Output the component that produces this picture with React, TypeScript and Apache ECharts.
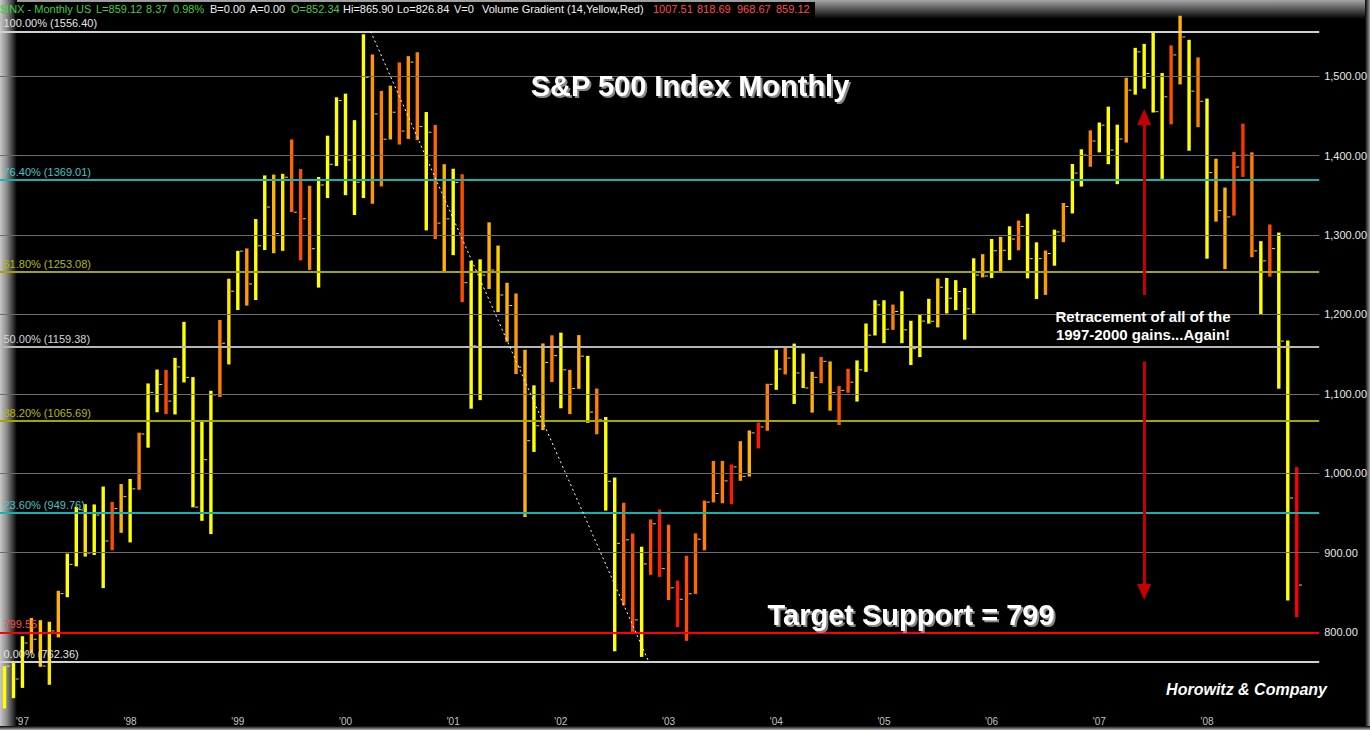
import React, { useEffect, useRef } from 'react';
import * as echarts from 'echarts';

const FONT = '"Liberation Sans", Arial, Helvetica, sans-serif';

// ---- categories: monthly slots Nov 1996 .. Jan 2009 (last two empty) ----
const firstYear = 1996;
const firstMonth = 11;
const slotCount = 147;
const months: string[] = Array.from({ length: slotCount }, (_, k) => {
  const m = firstMonth - 1 + k;
  return `${firstYear + Math.floor(m / 12)}-${String((m % 12) + 1).padStart(2, '0')}`;
});

// ---- monthly OHLC (high / low / close), Nov 1996 .. Nov 2008 ----
const highs = [
  757.0, 761.8,
  794.7, 817.7, 814.9, 812.9, 851.9, 898.7, 957.7, 961.0, 960.6, 983.1, 963.8, 986.3,
  992.7, 1051.0, 1113.0, 1130.5, 1130.0, 1145.2, 1190.6, 1121.0, 1066.1, 1103.8, 1193.0, 1244.9,
  1280.0, 1283.0, 1320.0, 1375.0, 1376.0, 1377.0, 1420.3, 1383.0, 1362.0, 1373.0, 1425.0, 1473.4,
  1478.0, 1444.6, 1552.9, 1527.2, 1481.5, 1488.0, 1517.3, 1525.2, 1530.1, 1454.8, 1438.5, 1389.1,
  1383.4, 1376.4, 1267.4, 1269.3, 1315.9, 1286.6, 1239.8, 1226.3, 1155.4, 1110.6, 1163.4, 1173.6,
  1177.0, 1130.2, 1173.9, 1147.8, 1106.6, 1070.7, 994.5, 962.7, 924.0, 907.4, 941.8, 954.3,
  935.1, 864.6, 895.9, 924.2, 965.4, 1015.3, 1015.4, 1011.0, 1040.3, 1053.8, 1063.7, 1112.6,
  1155.4, 1159.0, 1163.2, 1150.6, 1127.7, 1146.2, 1140.8, 1109.7, 1131.5, 1142.0, 1188.5, 1217.9,
  1217.8, 1212.4, 1229.1, 1191.9, 1199.6, 1219.6, 1245.2, 1245.9, 1243.1, 1233.3, 1270.6, 1275.8,
  1294.9, 1297.6, 1310.9, 1318.2, 1326.7, 1290.7, 1280.4, 1306.7, 1340.3, 1389.4, 1407.9, 1431.8,
  1441.6, 1461.6, 1438.9, 1498.0, 1535.6, 1540.6, 1555.9, 1503.9, 1538.7, 1576.1, 1545.8, 1523.6,
  1471.8, 1396.0, 1359.7, 1404.6, 1440.2, 1404.1, 1292.2, 1313.2, 1303.0, 1167.0, 1007.51,
];
const lows = [
  703.5, 716.7,
  729.6, 773.4, 756.1, 733.5, 793.2, 843.8, 882.6, 895.0, 897.0, 855.3, 903.0, 924.9,
  912.8, 979.1, 1032.1, 1076.7, 1074.4, 1074.0, 1114.3, 957.0, 940.0, 923.3, 1096.0, 1136.9,
  1205.5, 1211.0, 1218.0, 1281.0, 1277.0, 1280.0, 1329.0, 1268.0, 1256.0, 1233.7, 1346.5, 1386.8,
  1350.1, 1325.1, 1346.6, 1339.4, 1361.1, 1420.3, 1413.9, 1421.0, 1419.4, 1305.8, 1294.9, 1254.1,
  1274.6, 1215.4, 1081.2, 1092.0, 1232.0, 1203.0, 1165.5, 1124.9, 944.8, 1026.8, 1054.3, 1114.8,
  1081.7, 1074.4, 1106.2, 1063.5, 1049.0, 952.9, 775.7, 833.4, 800.2, 768.6, 872.0, 869.3,
  840.3, 806.3, 788.9, 847.9, 902.8, 963.2, 962.1, 960.8, 990.4, 995.8, 1031.2, 1053.4,
  1105.0, 1124.4, 1087.2, 1107.2, 1076.3, 1113.3, 1078.8, 1060.7, 1101.3, 1090.2, 1127.6, 1173.4,
  1163.8, 1180.5, 1163.7, 1136.2, 1146.2, 1188.3, 1183.6, 1201.1, 1205.4, 1168.2, 1201.1, 1246.6,
  1245.7, 1253.6, 1268.4, 1280.7, 1245.3, 1219.3, 1224.5, 1261.3, 1290.9, 1327.1, 1361.0, 1385.9,
  1404.0, 1389.1, 1364.0, 1416.4, 1476.7, 1484.2, 1454.2, 1370.6, 1439.3, 1489.6, 1406.1, 1435.7,
  1270.1, 1316.8, 1257.0, 1324.4, 1373.1, 1272.0, 1200.4, 1247.5, 1106.4, 839.8, 818.69,
];
const closes = [
  757.02, 740.74,
  786.16, 790.82, 757.12, 801.34, 848.28, 885.14, 954.31, 899.47, 947.28, 914.62, 955.40, 970.43,
  980.28, 1049.34, 1101.75, 1111.75, 1090.82, 1133.84, 1120.67, 957.28, 1017.01, 1098.67, 1163.63, 1229.23,
  1279.64, 1238.33, 1286.37, 1335.18, 1301.84, 1372.71, 1328.72, 1320.41, 1282.71, 1362.93, 1388.91, 1469.25,
  1394.46, 1366.42, 1498.58, 1452.43, 1420.60, 1454.60, 1430.83, 1517.68, 1436.51, 1429.40, 1314.95, 1320.28,
  1366.01, 1239.94, 1160.33, 1249.46, 1255.82, 1224.42, 1211.23, 1133.58, 1040.94, 1059.78, 1139.45, 1148.08,
  1130.20, 1106.73, 1147.39, 1076.92, 1067.14, 989.82, 911.62, 916.07, 815.28, 885.76, 936.31, 879.82,
  855.70, 841.15, 848.18, 916.92, 963.59, 974.50, 990.31, 1008.01, 995.97, 1050.71, 1058.20, 1111.92,
  1131.13, 1144.94, 1126.21, 1107.30, 1120.68, 1140.84, 1101.72, 1104.24, 1114.58, 1130.20, 1173.82, 1211.92,
  1181.27, 1203.60, 1180.59, 1156.85, 1191.50, 1191.33, 1234.18, 1220.33, 1228.81, 1207.01, 1249.48, 1248.29,
  1280.08, 1280.66, 1294.83, 1310.61, 1270.09, 1270.20, 1276.66, 1303.82, 1335.85, 1377.94, 1400.63, 1418.30,
  1438.24, 1406.82, 1420.86, 1482.37, 1530.62, 1503.35, 1455.27, 1473.99, 1526.75, 1549.38, 1481.14, 1468.36,
  1378.55, 1330.63, 1322.70, 1385.59, 1400.38, 1280.00, 1267.38, 1282.83, 1166.36, 968.75, 859.12,
];
// Volume gradient step (0 = yellow ... 10 = red)
const volumeHeat = [
  0, 0,
  0, 3, 2, 1, 3, 0, 0, 1, 0, 0, 7, 3,
  0, 5, 0, 0, 7, 0, 0, 0, 0, 0, 5, 1,
  0, 4, 0, 0, 3, 1, 6, 7, 5, 0, 0, 0,
  0, 0, 0, 4, 5, 3, 6, 4, 5, 0, 6, 3,
  0, 7, 0, 0, 3, 2, 3, 4, 3, 0, 3, 5,
  0, 4, 3, 0, 5, 0, 0, 6, 7, 0, 7, 9,
  6, 9, 7, 6, 5, 5, 5, 9, 4, 3, 9, 5,
  0, 5, 0, 1, 3, 6, 3, 7, 7, 0, 0, 0,
  0, 5, 0, 0, 0, 0, 2, 0, 0, 0, 0, 3,
  0, 2, 0, 5, 0, 0, 4, 0, 4, 0, 0, 5,
  0, 0, 0, 4, 0, 0, 0, 0, 7, 3, 0, 5,
  0, 3, 3, 7, 8, 5, 0, 7, 0, 0, 10,
];

// ---- levels ----
const gridValues = [800, 900, 1000, 1100, 1200, 1300, 1400, 1500];
const fibPercents = ['100.00%', '76.40%', '61.80%', '50.00%', '38.20%', '23.60%', '0.00%'];
const fibValues = [1556.40, 1369.01, 1253.08, 1159.38, 1065.69, 949.76, 762.36];
const targetSupport = 799.55;
const lastClose = 859.12;
// dotted trend line (month index, price)
const trendLine = [[40.8, 1556.4], [71.8, 762.36]];
// red arrows (month index, price): [from, to]
const arrowUp = [[127, 1224.4], [127, 1448.6]];
const arrowDown = [[127, 1140.7], [127, 850.4]];

const headerItems = [
  { text: '$INX - Monthly', color: 'g' }, { text: 'US', color: 'g' }, { text: 'L=859.12', color: 'g' },
  { text: '8.37', color: 'g' }, { text: '0.98%', color: 'g' }, { text: 'B=0.00', color: 'w' },
  { text: 'A=0.00', color: 'w' }, { text: 'O=852.34', color: 'g' }, { text: 'Hi=865.90', color: 'w' },
  { text: 'Lo=826.84', color: 'w' }, { text: 'V=0', color: 'w' },
  { text: 'Volume Gradient (14,Yellow,Red)', color: 'w' }, { text: '1007.51', color: 'r' },
  { text: '818.69', color: 'r' }, { text: '968.67', color: 'r' }, { text: '859.12', color: 'r' },
];
const headerX = [0, 76, 96, 146, 173, 210, 250, 291, 343, 397, 454, 482, 653, 697, 737, 776];

const fibLineColors = ['#d2d2d2', '#18b0b0', '#a5a500', '#b6b6b6', '#a5a500', '#18b0b0', '#d2d2d2'];
const fibTextColors = ['#e4e4e4', '#3ec8c8', '#b8b800', '#d4d4d4', '#b8b800', '#3ec8c8', '#e4e4e4'];

function heatColor(h: number) {
  const g = Math.round(255 * (1 - h / 10));
  return `rgb(255,${g},0)`;
}

function buildOption() {
  const LG = (echarts.graphic as any).LinearGradient;
  const ohlcData = closes.map((c, i) => [i, highs[i], lows[i], c, volumeHeat[i]]);
  const hdrColor: Record<string, string> = { g: '#3fd23f', w: '#f2f2f2', r: '#ff4d4d' };

  const fibMarks: any[] = fibValues.map((v, i) => ({
    yAxis: v,
    lineStyle: { color: fibLineColors[i], width: 2, type: 'solid' },
    label: {
      show: true, position: 'insideStartTop', distance: [3.5, 2.5],
      formatter: `${fibPercents[i]} (${v.toFixed(2)})`,
      color: fibTextColors[i], fontSize: 11, fontFamily: FONT,
    },
  }));
  fibMarks.push({
    yAxis: targetSupport,
    lineStyle: { color: '#ff0000', width: 2, type: 'solid' },
    label: {
      show: true, position: 'insideStartTop', distance: [3.5, 2.5],
      formatter: targetSupport.toFixed(2), color: '#ff4a4a', fontSize: 11, fontFamily: FONT,
    },
  });

  const graphic: any[] = [
    { type: 'rect', z: -10, silent: true, shape: { x: 0, y: 0, width: 1370, height: 19 },
      style: { fill: new LG(0, 0, 0, 1, [{ offset: 0, color: '#a6a6a6' }, { offset: 1, color: '#000000' }]) } },
    { type: 'rect', z: -9, silent: true, shape: { x: 0, y: 0, width: 17, height: 730 },
      style: { fill: new LG(0, 0, 1, 0, [{ offset: 0, color: '#c8c8c8' }, { offset: 0.4, color: '#8a8a8a' }, { offset: 1, color: '#000000' }]) } },
    { type: 'rect', z: -9, silent: true, shape: { x: 1365, y: 0, width: 5, height: 730 },
      style: { fill: new LG(0, 0, 1, 0, [{ offset: 0, color: '#000000' }, { offset: 1, color: '#9c9c9c' }]) } },
    { type: 'rect', z: -9, silent: true, shape: { x: 0, y: 726, width: 1370, height: 4 },
      style: { fill: new LG(0, 0, 0, 1, [{ offset: 0, color: '#000000' }, { offset: 1, color: '#b4b4b4' }]) } },
    { type: 'rect', z: -8, silent: true, shape: { x: 15, y: 2, width: 800, height: 17 }, style: { fill: '#000000' } },
  ];
  headerItems.forEach((h, i) => {
    graphic.push({
      type: 'text', z: 20, silent: true, x: headerX[i], y: 9,
      style: { text: h.text, fill: hdrColor[h.color], font: `11px ${FONT}`, verticalAlign: 'middle', textVerticalAlign: 'middle' },
    });
  });
  const shadow = { textShadowColor: 'rgba(150,150,150,0.9)', textShadowOffsetX: 2, textShadowOffsetY: 2, textShadowBlur: 1 };
  graphic.push(
    { type: 'text', z: 20, silent: true, x: 690, y: 86,
      style: { text: 'S&P 500 Index Monthly', fill: '#ffffff', font: `bold 29px ${FONT}`, align: 'center', textAlign: 'center', verticalAlign: 'middle', textVerticalAlign: 'middle', ...shadow } },
    { type: 'text', z: 20, silent: true, x: 911, y: 615,
      style: { text: 'Target Support = 799', fill: '#ffffff', font: `bold 29px ${FONT}`, align: 'center', textAlign: 'center', verticalAlign: 'middle', textVerticalAlign: 'middle', ...shadow } },
    { type: 'text', z: 20, silent: true, x: 1143, y: 325,
      style: { text: 'Retracement of all of the\n1997-2000 gains...Again!', fill: '#ffffff', font: `bold 15px ${FONT}`, lineHeight: 18, align: 'center', textAlign: 'center', verticalAlign: 'middle', textVerticalAlign: 'middle', textShadowColor: 'rgba(120,120,120,0.9)', textShadowOffsetX: 1, textShadowOffsetY: 1 } },
    { type: 'text', z: 20, silent: true, x: 1327, y: 689,
      style: { text: 'Horowitz & Company', fill: '#ffffff', font: `italic bold 16px ${FONT}`, align: 'right', textAlign: 'right', verticalAlign: 'middle', textVerticalAlign: 'middle', textShadowColor: 'rgba(120,120,120,0.9)', textShadowOffsetX: 1, textShadowOffsetY: 1 } },
  );

  return {
    animation: false,
    backgroundColor: '#000000',
    textStyle: { fontFamily: FONT },
    grid: { left: -1.5, right: 50.5, top: 16.6, bottom: 18.6 },
    xAxis: [
      {
        type: 'category', data: months, boundaryGap: true,
        axisLine: { show: false }, axisTick: { show: false }, splitLine: { show: false },
        axisLabel: {
          interval: (i: number, v: string) => v.endsWith('-01') && i < closes.length,
          formatter: (v: string) => `'${v.slice(2, 4)}`,
          color: '#c4c4c4', fontSize: 10, margin: 5, fontFamily: FONT,
        },
      },
      { type: 'value', min: -0.5, max: slotCount - 0.5, show: false },
    ],
    yAxis: {
      type: 'value', position: 'right', min: 700, max: 1575, interval: 100,
      axisLine: { show: false }, axisTick: { show: false }, splitLine: { show: false },
      axisLabel: {
        showMinLabel: false, showMaxLabel: false, color: '#e8e8e8', fontSize: 11, margin: 5, fontFamily: FONT,
        formatter: (v: number) => (v >= 800 && v <= 1500 && v % 100 === 0)
          ? v.toLocaleString('en-US', { minimumFractionDigits: 2, maximumFractionDigits: 2 }) : '',
      },
    },
    graphic,
    series: [
      {
        type: 'line', name: 'grid', xAxisIndex: 1, yAxisIndex: 0, data: [], z: 1, silent: true,
        markLine: {
          silent: true, symbol: ['none', 'none'], label: { show: false },
          lineStyle: { color: '#6c6c6c', width: 1, type: 'solid' },
          data: gridValues.map((v) => ({ yAxis: v })),
        },
      },
      {
        type: 'line', name: 'fib', xAxisIndex: 1, yAxisIndex: 0, data: [], z: 2, silent: true,
        markLine: { silent: true, symbol: ['none', 'none'], data: fibMarks },
      },
      {
        type: 'custom', name: 'S&P 500', xAxisIndex: 0, yAxisIndex: 0, z: 3,
        data: ohlcData, encode: { x: 0, y: [1, 2, 3] },
        renderItem: (_p: any, api: any) => {
          const i = api.value(0);
          const hi = api.coord([i, api.value(1)]);
          const lo = api.coord([i, api.value(2)]);
          const cl = api.coord([i, api.value(3)]);
          const color = heatColor(api.value(4));
          return {
            type: 'group',
            children: [
              { type: 'rect', shape: { x: hi[0] - 1.7, y: hi[1], width: 3.4, height: lo[1] - hi[1] }, style: { fill: color } },
              { type: 'rect', shape: { x: hi[0] + 2.2, y: cl[1] - 0.5, width: 3, height: 1 }, style: { fill: 'rgba(255,245,190,0.85)' } },
            ],
          };
        },
      },
      {
        type: 'line', name: 'trend', xAxisIndex: 1, yAxisIndex: 0, data: [], z: 4, silent: true,
        markLine: {
          silent: true, symbol: ['none', 'none'], label: { show: false },
          lineStyle: { color: '#ffffff', width: 1, type: [2, 3] },
          data: [[{ coord: trendLine[0] }, { coord: trendLine[1] }]],
        },
      },
      {
        type: 'line', name: 'arrows', xAxisIndex: 1, yAxisIndex: 0, data: [], z: 4, silent: true,
        markLine: {
          silent: true, symbol: ['none', 'triangle'], symbolSize: [14, 16], label: { show: false },
          lineStyle: { color: '#c40000', width: 3, type: 'solid' },
          data: [
            [{ coord: arrowUp[0] }, { coord: arrowUp[1] }],
            [{ coord: arrowDown[0] }, { coord: arrowDown[1] }],
          ],
        },
      },
      {
        type: 'line', name: 'last', xAxisIndex: 1, yAxisIndex: 0, data: [], z: 5, silent: true,
        markLine: {
          silent: true, symbol: ['none', 'none'],
          lineStyle: { opacity: 0 },
          data: [{
            yAxis: lastClose,
            label: {
              show: true, position: 'end', distance: 4, formatter: lastClose.toFixed(2),
              color: '#0a3a0a', backgroundColor: '#1fe01f', padding: [2, 5, 1, 5], fontSize: 11, fontFamily: FONT,
            },
          }],
        },
      },
    ],
  };
}

export default function App() {
  const ref = useRef<HTMLDivElement>(null);
  useEffect(() => {
    document.body.style.margin = '0';
    document.body.style.background = '#000';
    const chart = echarts.init(ref.current as HTMLDivElement, null, { renderer: 'svg' });
    chart.setOption(buildOption() as any);
    return () => chart.dispose();
  }, []);
  return <div ref={ref} style={{ width: 1370, height: 730 }} />;
}
